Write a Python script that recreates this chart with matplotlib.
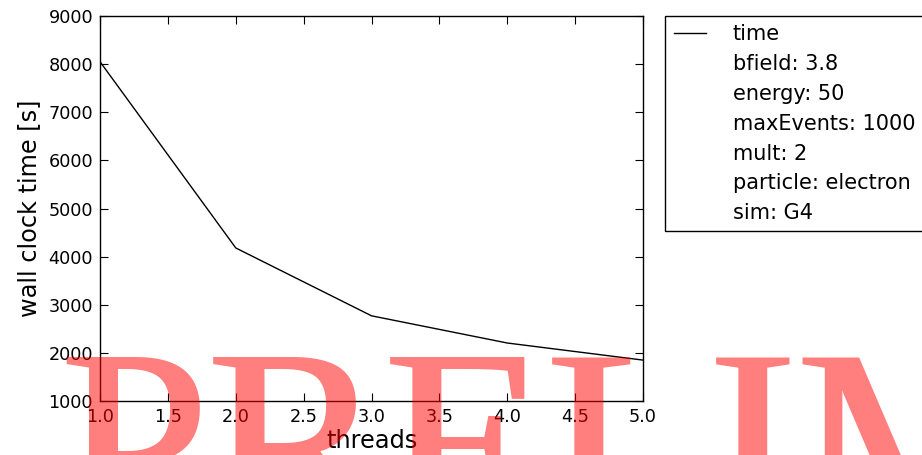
import matplotlib
matplotlib.use("Agg")
import matplotlib.pyplot as plt
import numpy as np

# data
threads = [1, 2, 3, 4, 5]
wall_time = [8050, 4180, 2770, 2205, 1850]
params = ["bfield: 3.8", "energy: 50", "maxEvents: 1000", "mult: 2",
          "particle: electron", "sim: G4"]
x_ticks = [1.0, 1.5, 2.0, 2.5, 3.0, 3.5, 4.0, 4.5, 5.0]
y_ticks = [1000, 2000, 3000, 4000, 5000, 6000, 7000, 8000, 9000]


def widen(img, dpi, r=2):
    # thicken the vertical strokes of the watermark a little
    a = np.pad(img[..., 3], ((0, 0), (r, r)))
    out = a.copy()
    for dx in range(-r, r + 1):
        out = np.maximum(out, np.roll(a, dx, 1))
    res = np.zeros(out.shape + (4,))
    res[..., 0] = 1.0
    res[..., 3] = out
    return res, -r, 0


fig = plt.figure(figsize=(9.22, 4.55), dpi=100)
ax = fig.add_axes([0.1085, 0.1187, 0.5889, 0.8461])

ax.plot(threads, wall_time, color="black", linewidth=1, label="time")
# parameters shown as legend entries with no handle
for p in params:
    ax.plot([], [], " ", label=p)

ax.set_xlim(1.0, 5.0)
ax.set_ylim(1000, 9000)
ax.set_xticks(x_ticks)
ax.set_yticks(y_ticks)
ax.tick_params(direction="in", top=True, right=True, labelsize=12.7,
               length=6, pad=5)
for s in ax.spines.values():
    s.set_linewidth(1)
ax.set_xlabel("threads", fontsize=17.3, labelpad=2)
ax.set_ylabel("wall clock time [s]", fontsize=17.3, labelpad=5)

leg = ax.legend(loc="upper left", bbox_to_anchor=(1.041, 1.0), borderaxespad=0,
                fontsize=15, handlelength=1.55, handletextpad=1.3,
                labelspacing=0.47, borderpad=0.4, fancybox=False, framealpha=1)
leg.get_frame().set_edgecolor("black")
leg.get_frame().set_linewidth(1)

# watermark
wm = fig.text(60 / 922, -76 / 455, "PRELIMINARY", fontsize=191,
              family="Liberation Serif", color="red", alpha=0.5,
              ha="left", va="baseline", zorder=10)
wm.set_agg_filter(widen)

fig.savefig("out.png", dpi=100)
